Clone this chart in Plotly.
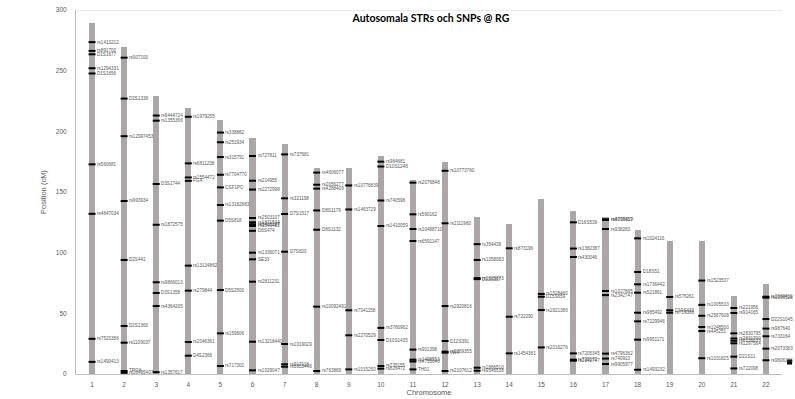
import plotly.graph_objects as go

# Chromosomes and their genetic map lengths (cM)
chromosomes = [str(i) for i in range(1, 23)]
chrom_length_cm = [289.5, 269.5, 229, 219, 209.5, 194.5, 189.5, 169.5, 170, 180,
                   159.5, 174.5, 129, 124, 144, 134.5, 129, 119, 109.5, 109.5,
                   64.5, 74.5]

# Marker chromosome, position (cM) and name
marker_chrom = (
    ["1"] * 9 + ["2"] * 9 + ["3"] * 8 + ["4"] * 8 + ["5"] * 10 + ["6"] * 13 +
    ["7"] * 7 + ["8"] * 7 + ["9"] * 5 + ["10"] * 8 + ["11"] * 8 + ["12"] * 7 +
    ["13"] * 6 + ["14"] * 3 + ["15"] * 4 + ["16"] * 6 + ["17"] * 8 + ["18"] * 8 +
    ["19"] * 3 + ["20"] * 6 + ["21"] * 8 + ["22"] * 7
)
marker_pos = [
    273.5, 266.3, 263.5, 252, 247.7, 172.8, 132, 29, 10,
    260.7, 227, 196, 142.6, 94, 39.6, 25.8, 2.5, 1.0,
    213, 208.8, 156.6, 123, 75.6, 66.8, 56, 1.5,
    212, 173.6, 162, 159.2, 89.3, 68.7, 26.4, 15.1,
    199, 191, 178.8, 164.2, 153.8, 139.3, 126.4, 69.2, 33.5, 6.6,
    179.7, 159.3, 152, 128.6, 125, 123.4, 122, 118, 100, 94.5, 76.1, 26.6, 3,
    181, 144.8, 131.9, 100.8, 24.7, 8, 6,
    166, 156, 152.8, 134.8, 118.9, 55.5, 2.5,
    155.4, 135.6, 52.5, 31.9, 3.8,
    175, 171, 143, 122, 38, 28, 6.6, 4.4,
    157.7, 131.6, 119.5, 109.6, 20.1, 11.8, 10.3, 3.8,
    167.5, 124.2, 56, 27.2, 18.4, 17.6, 2.5,
    107, 94, 79, 78.2, 5.2, 2.7,
    103.6, 47.2, 17,
    66, 63.7, 52.7, 21.9,
    125, 103.4, 96.4, 17, 11.8, 11,
    127.5, 127, 119.5, 68.4, 65, 16.8, 12.7, 8.2,
    111.8, 84.1, 73.9, 67, 50.5, 43.4, 28.3, 3.5,
    63.5, 52.5, 50.5,
    77, 57, 48, 38.7, 35.4, 13,
    54.4, 50.3, 33.5, 29.3, 27.4, 25.3, 14.3, 4.6,
    63.7, 62.9, 45.3, 37.4, 31.1, 20.9, 11.3,
]
marker_name = [
    "rs1413212", "rs891700", "D1S1677", "rs1294331", "D1S1656", "rs560681", "rs4847034", "rs7520386", "rs1490413",
    "rs907100", "D2S1338", "rs12997453", "rs993934", "D2S441", "D2S1360", "rs1109037", "TPOX", "rs10495407",
    "rs6444724", "rs1355366", "D3S1744", "rs1872575", "rs9866013", "D3S1358", "rs4364205", "rs1357617",
    "rs1979255", "rs6811238", "rs1554472", "FGA", "rs13134862", "rs279844", "rs2046361", "D4S2366",
    "rs338882", "rs251934", "rs315791", "rs7704770", "CSF1PO", "rs13182883", "D5S818", "D5S2500", "rs159606", "rs717302",
    "rs727811", "rs214955", "rs2272998", "rs2503107", "rs1871534", "rs9405127", "rs1040485", "D6S474", "rs1336071", "SE33", "rs2811231", "rs13218440", "rs1029047",
    "rs737681", "rs321198", "D7S1517", "D7S820", "rs1019029", "rs917118", "rs6955448",
    "rs4606077", "rs2056277", "rs4288409", "D8S1179", "D8S1132", "rs10092491", "rs763869",
    "rs10776839", "rs1463729", "rs7041158", "rs2270529", "rs1015250",
    "rs964681", "D10S1248", "rs740598", "rs1410059", "rs3780962", "D10S1435", "rs735155", "rs826472",
    "rs2076848", "rs590162", "rs10488710", "rs6591147", "rs901398", "rs1498553", "rs4755046", "TH01",
    "rs10773760", "rs2111980", "rs2920816", "D12S391", "rs2269355", "vWA", "rs2107612",
    "rs354439", "rs1058083", "rs1335873", "D13S317", "rs1886510", "rs9546538",
    "rs873196", "rs722290", "rs1454361",
    "rs1528460", "D15S659", "rs1821380", "rs2016276",
    "D16S539", "rs1382387", "rs430046", "rs7205345", "rs729172", "rs2342747",
    "rs4790359", "rs8078417", "rs938283", "rs1027895", "rs2342747", "rs4796362", "rs740910", "rs9905977",
    "rs1024116", "D18S51", "rs1736442", "rs521861", "rs985492", "rs7229946", "rs9951171", "rs1493232",
    "rs576261", "D19S433", "rs719366",
    "rs1523537", "rs1005533", "rs2567608", "rs1248500", "rs445251", "rs1031825",
    "rs221956", "rs914165", "rs2830795", "rs2831700", "rs8130833", "rs1297564", "D21S11", "rs722098",
    "rs2040411", "rs1028528", "D22S1045", "rs987640", "rs733164", "rs2073383", "rs9606186",
]

GREY_TEXT = "#595959"

fig = go.Figure()

# Chromosome bars
fig.add_trace(go.Bar(
    x=chromosomes, y=chrom_length_cm, width=0.19,
    marker=dict(color="#aba7a7", line=dict(width=0)),
    showlegend=False, hoverinfo="skip",
))

# Marker positions as short black dashes
fig.add_trace(go.Scatter(
    x=marker_chrom, y=marker_pos, mode="markers",
    marker=dict(symbol="line-ew", size=5, line=dict(width=2, color="black")),
    showlegend=False, text=marker_name,
))

# Legend entry for the marker series
fig.add_trace(go.Scatter(
    x=[chromosomes[0]], y=[None], mode="markers", name="",
    marker=dict(symbol="square", size=5, color="black"),
    showlegend=True,
))

# Marker name labels (category index keeps numeric-looking names on the right bar)
for c, p, n in zip(marker_chrom, marker_pos, marker_name):
    fig.add_annotation(
        x=chromosomes.index(c), y=p, text=n, showarrow=False,
        xanchor="left", yanchor="middle", xshift=3,
        font=dict(size=4.6, color=GREY_TEXT, family="Liberation Sans"),
    )

# Top border of the plot area
fig.add_shape(type="line", xref="paper", x0=0, x1=1, yref="y", y0=300, y1=300,
              line=dict(color="#d9d9d9", width=1))

fig.update_layout(
    width=795, height=399,
    margin=dict(l=76, r=13, t=10, b=25, autoexpand=False),
    paper_bgcolor="white", plot_bgcolor="white",
    font=dict(family="Liberation Sans", color=GREY_TEXT),
    title=dict(
        text="<b>Autosomala STRs och SNPs @ RG</b>",
        x=0.542, xanchor="center", y=0.955, yanchor="middle",
        font=dict(family="Lato", size=10.5, color="black"),
    ),
    xaxis=dict(
        type="category", categoryorder="array", categoryarray=chromosomes,
        range=[-0.5, len(chromosomes) - 0.5],
        showline=True, linecolor="#bfbfbf", linewidth=1,
        ticks="", showgrid=False, automargin=False,
        tickfont=dict(size=6.5, color=GREY_TEXT), ticklabelstandoff=4,
        title=dict(text="Chromosome", font=dict(size=7.5, color=GREY_TEXT), standoff=2),
    ),
    yaxis=dict(
        range=[0, 300], tickvals=[0, 50, 100, 150, 200, 250, 300],
        showline=True, linecolor="#bfbfbf", linewidth=1,
        ticks="", showgrid=False, zeroline=False, automargin=False,
        tickfont=dict(size=6.5, color=GREY_TEXT), ticklabelstandoff=7,
        title=dict(text="Position (cM)", font=dict(size=7.5, color=GREY_TEXT), standoff=8),
    ),
    legend=dict(xref="container", yref="container", x=0.968, xanchor="left",
                y=0.093, yanchor="middle", bgcolor="rgba(0,0,0,0)", font=dict(size=6)),
    bargap=0,
)

fig.write_html("out.html", config={"displayModeBar": False})
